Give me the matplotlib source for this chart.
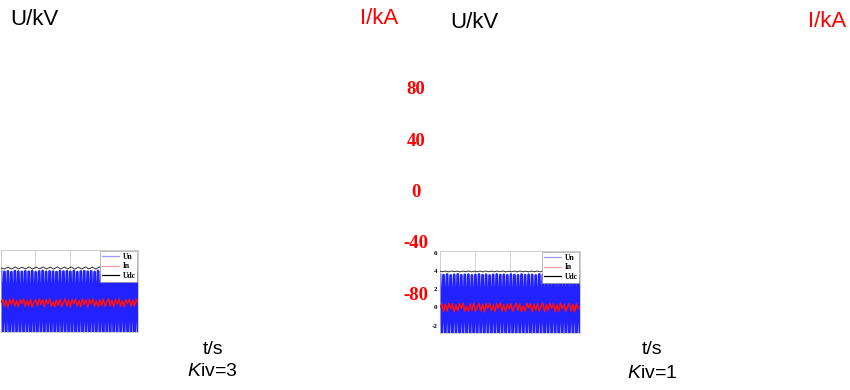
import matplotlib
matplotlib.use('Agg')
import matplotlib.pyplot as plt
from matplotlib.lines import Line2D
import numpy as np

plt.rcParams['font.family'] = ['Liberation Sans', 'DejaVu Sans']
plt.rcParams['mathtext.fontset'] = 'custom'
plt.rcParams['mathtext.it'] = 'Liberation Sans:italic'
plt.rcParams['mathtext.rm'] = 'Liberation Sans'

# ---- data ----
t_end = 0.4
grid_t = [0.1, 0.2, 0.3]

# left panel (Kiv=3)
un3_peaks = [3.72, 3.65, 3.70, 3.61, 3.74, 3.68, 3.63, 3.71, 3.66, 3.73,
             3.60, 3.69, 3.75, 3.64, 3.70, 3.67, 3.62, 3.73, 3.68, 3.71,
             3.65, 3.74, 3.61, 3.69, 3.72, 3.66, 3.70, 3.63, 3.75, 3.67,
             3.71, 3.64, 3.69, 3.73, 3.62, 3.70, 3.68, 3.74, 3.65, 3.71]
un3_troughs = [-3.6, -3.5, -3.7, -3.55, -3.6, -3.65, -3.5, -3.6, -3.7, -3.55,
               -3.6, -3.5, -3.65, -3.6, -3.55, -3.7, -3.6, -3.5, -3.6, -3.65,
               -3.55, -3.6, -3.7, -3.5, -3.6, -3.65, -3.55, -3.6, -3.5, -3.7,
               -3.6, -3.55, -3.65, -3.6, -3.5, -3.6, -3.7, -3.55, -3.6, -3.65]
in3 = [0.05, 0.42, -0.38, 0.31, -0.45, 0.40, -0.12, 0.48, -0.35, 0.25,
       -0.43, 0.37, -0.05, 0.46, -0.40, 0.28, -0.32, 0.44, -0.48, 0.10,
       0.39, -0.36, 0.47, -0.15, 0.34, -0.44, 0.41, -0.08, 0.45, -0.39,
       0.12, -0.46, 0.38, -0.30, 0.43, -0.41, 0.06, 0.49, -0.34, 0.32,
       -0.47, 0.40, -0.10, 0.44, -0.37, 0.29, -0.43, 0.46, -0.16, 0.36,
       -0.49, 0.42, -0.07, 0.47, -0.38, 0.24, -0.45, 0.39, -0.31, 0.45,
       -0.40, 0.09, 0.48, -0.36, 0.33, -0.44, 0.41, -0.13, 0.46, -0.39,
       0.27, -0.47, 0.37, -0.04, 0.43, -0.42, 0.30, -0.35, 0.45, 0.02]
udc3 = [4.10, 3.98, 4.20, 3.97, 4.21, 3.99, 4.19, 3.98, 4.22, 3.97,
        4.20, 3.99, 4.21, 3.98, 4.19, 3.97, 4.22, 3.98, 4.20, 3.99,
        4.21, 3.97, 4.19, 3.98, 4.22, 3.99, 4.20, 3.97, 4.21, 3.98,
        4.19, 3.99, 4.22, 3.98, 4.20, 3.97, 4.21, 3.99, 4.19, 4.05]

# right panel (Kiv=1)
un1_peaks = [3.60, 3.55, 3.62, 3.52, 3.58, 3.63, 3.54, 3.59, 3.61, 3.53,
             3.57, 3.62, 3.55, 3.60, 3.52, 3.58, 3.63, 3.56, 3.59, 3.54,
             3.61, 3.57, 3.53, 3.62, 3.55, 3.60, 3.58, 3.52, 3.63, 3.56,
             3.59, 3.54, 3.61, 3.57, 3.55, 3.62, 3.53, 3.60, 3.58, 3.56]
un1_troughs = [-3.0, -2.95, -3.05, -3.0, -2.9, -3.05, -3.0, -2.95, -3.0, -3.05,
               -2.95, -3.0, -3.05, -2.9, -3.0, -3.0, -2.95, -3.05, -3.0, -2.95,
               -3.0, -3.05, -2.9, -3.0, -2.95, -3.05, -3.0, -3.0, -2.95, -3.05,
               -3.0, -2.9, -3.0, -3.05, -2.95, -3.0, -3.05, -3.0, -2.95, -3.0]
in1 = [0.02, 0.40, -0.43, 0.35, -0.38, 0.46, -0.15, 0.41, -0.47, 0.30,
       -0.36, 0.44, -0.09, 0.48, -0.41, 0.14, -0.45, 0.39, -0.32, 0.47,
       -0.40, 0.08, 0.45, -0.37, 0.34, -0.48, 0.42, -0.11, 0.46, -0.35,
       0.28, -0.44, 0.40, -0.06, 0.49, -0.39, 0.31, -0.46, 0.37, -0.14,
       0.43, -0.42, 0.10, 0.47, -0.33, 0.38, -0.45, 0.16, -0.40, 0.46,
       -0.08, 0.41, -0.47, 0.35, -0.29, 0.44, -0.38, 0.12, 0.48, -0.43,
       0.32, -0.36, 0.45, -0.10, 0.40, -0.46, 0.29, -0.41, 0.47, -0.17,
       0.36, -0.44, 0.07, 0.43, -0.39, 0.33, -0.48, 0.41, -0.12, 0.04]
udc1 = [3.98, 3.92, 4.00, 3.91, 4.01, 3.92, 3.99, 3.91, 4.00, 3.92,
        4.01, 3.91, 3.99, 3.92, 4.00, 3.91, 4.01, 3.92, 3.99, 3.91,
        4.00, 3.92, 4.01, 3.91, 3.99, 3.92, 4.00, 3.91, 4.01, 3.92,
        3.99, 3.91, 4.00, 3.92, 4.01, 3.91, 3.99, 3.92, 4.00, 3.91,
        4.01, 3.92, 3.99, 3.91, 4.00, 3.92, 4.01, 3.91, 3.99, 3.95]
u_ticks = [-2, 0, 2, 4, 6]

# red current-axis labels
i_ticks = [-80, -40, 0, 40, 80]

W, H = 850, 390


def fx(px):
    return px / W


def fy(py):
    return 1 - py / H


def zigzag(peaks, troughs):
    vals = []
    for p, q in zip(peaks, troughs):
        vals.append(p)
        vals.append(q)
    return vals


def small_panel(ax, un, i_n, udc, ylim, show_ticks):
    ax.plot(np.linspace(0, t_end, len(un)), un, color='#2222ff', lw=2.0, zorder=2)
    ax.plot(np.linspace(0, t_end, len(i_n)), i_n, color='#ff1010', lw=1.1, zorder=3)
    ax.plot(np.linspace(0, t_end, len(udc)), udc, color='#333333', lw=0.7, zorder=3)
    ax.set_xlim(0, t_end)
    ax.set_ylim(ylim)
    ax.set_xticks(grid_t)
    ax.set_xticklabels([])
    ax.tick_params(axis='x', length=0)
    ax.grid(True, axis='x', color='#cccccc', lw=0.6)
    if show_ticks:
        ax.set_yticks(u_ticks)
        ax.set_yticklabels([str(v) for v in u_ticks], fontsize=5,
                           family='Liberation Serif', fontweight='bold')
        ax.tick_params(axis='y', length=0, pad=2)
    else:
        ax.set_yticks([])
    for s in ax.spines.values():
        s.set_color('#bbbbbb')
        s.set_linewidth(0.5)
    handles = [Line2D([], [], color='#9a9aff', lw=0.9),
               Line2D([], [], color='#ff9a9a', lw=0.9),
               Line2D([], [], color='black', lw=0.9)]
    leg = ax.legend(handles, ['Un', 'In', 'Udc'], loc='upper right',
                    prop={'family': 'Liberation Serif', 'weight': 'bold', 'size': 5.5},
                    borderaxespad=0.1, fancybox=False, handlelength=2.2,
                    borderpad=0.25, labelspacing=0.2, handletextpad=0.5)
    leg.get_frame().set_edgecolor('#888888')
    leg.get_frame().set_linewidth(0.4)
    leg.get_frame().set_alpha(1)


fig = plt.figure(figsize=(8.5, 3.9), dpi=100)

ax_l = fig.add_axes([fx(1), fy(332), fx(137), 82 / H])
small_panel(ax_l, zigzag(un3_peaks, un3_troughs), in3, udc3, (-3.4, 6.2), False)

ax_r = fig.add_axes([fx(440), fy(333), fx(140), 82 / H])
small_panel(ax_r, zigzag(un1_peaks, un1_troughs), in1, udc1, (-2.8, 6.2), True)

# red I/kA tick labels floating in the middle
ax_i = fig.add_axes([fx(430), fy(293), fx(5), 205 / H])
ax_i.set_ylim(-80, 80)
ax_i.set_xticks([])
ax_i.set_yticks(i_ticks)
ax_i.set_yticklabels([str(v) for v in i_ticks], color='red', fontsize=13.5,
                     family='Liberation Serif', fontweight='bold', ha='center')
ax_i.tick_params(axis='y', length=0, pad=10)
ax_i.set_frame_on(False)
ax_i.patch.set_visible(False)

# axis titles
fig.text(fx(10), fy(19.5), 'U/kV', fontsize=16, va='center', ha='left')
fig.text(fx(360), fy(18.5), 'I/kA', fontsize=16, color='red', va='center', ha='left')
fig.text(fx(450), fy(22), 'U/kV', fontsize=16, va='center', ha='left')
fig.text(fx(808), fy(21.5), 'I/kA', fontsize=16, color='red', va='center', ha='left')

fig.text(fx(213), fy(349), 't/s', fontsize=14, va='center', ha='center')
fig.text(fx(212), fy(371), r'$\it{K}$iv=3', fontsize=14, va='center', ha='center')
fig.text(fx(652), fy(350), 't/s', fontsize=14, va='center', ha='center')
fig.text(fx(652), fy(373), r'$\it{K}$iv=1', fontsize=14, va='center', ha='center')

fig.savefig('out.png', dpi=100)
